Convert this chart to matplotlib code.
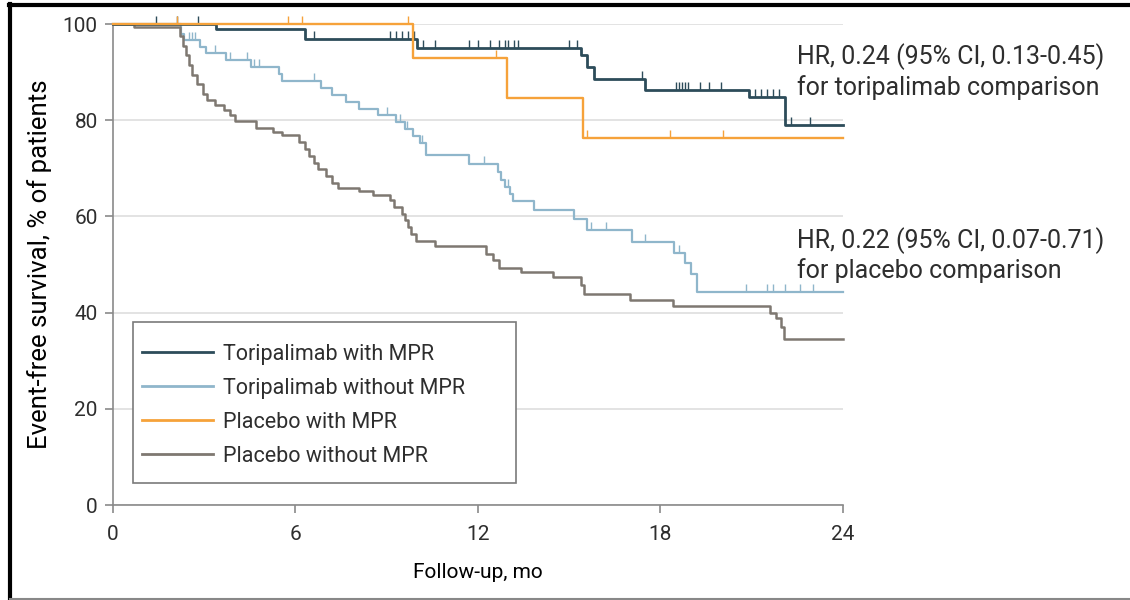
import matplotlib
matplotlib.use("Agg")

import matplotlib.pyplot as plt
import numpy as np
from matplotlib.lines import Line2D
from matplotlib.patches import Rectangle

# step curves: time (mo) where the level starts, survival (%) from that time on
tor_mpr_t = [0, 3.4, 6.3, 10.0, 15.4, 15.6, 15.8, 17.5, 20.9, 22.1, 24]
tor_mpr_s = [100, 99.0, 96.9, 95.0, 93.5, 91.0, 88.5, 86.2, 84.8, 79.0, 79.0]
tor_mpr_cens = [1.4, 2.1, 2.8, 6.6, 9.1, 9.3, 9.5, 9.7, 9.9, 10.2, 10.6, 11.7, 12.0,
                12.4, 12.7, 12.9, 13.0, 13.2, 13.3, 15.0, 15.25, 17.4, 18.5, 18.6,
                18.7, 18.8, 18.9, 19.3, 19.6, 20.0, 21.1, 21.3, 21.5, 21.7, 21.9,
                22.3, 22.9]

tor_nompr_t = [0, 2.25, 2.35, 2.85, 3.05, 3.7, 4.55, 5.45, 5.55, 6.85, 7.2, 7.65,
               8.1, 8.7, 9.3, 9.6, 9.85, 10.1, 10.3, 11.7, 12.65, 12.75, 12.9,
               13.05, 13.15, 13.85, 15.15, 15.6, 17.05, 18.45, 18.8, 19.0, 19.2, 24]
tor_nompr_s = [100, 98.0, 96.7, 95.3, 93.9, 92.5, 91.1, 89.7, 88.2, 86.6, 85.2, 83.8,
               82.4, 81.0, 79.6, 78.2, 76.8, 75.2, 72.8, 71.0, 69.2, 67.6, 66.1,
               64.6, 63.2, 61.3, 59.5, 57.2, 54.7, 52.4, 50.3, 48.0, 44.3, 44.3]
tor_nompr_cens = [2.5, 2.6, 2.7, 3.35, 3.85, 4.4, 4.65, 4.8, 6.6, 9.0, 9.45, 9.65,
                  10.15, 12.2, 13.0, 15.7, 16.2, 17.5, 18.6, 20.8, 21.5, 21.7, 22.1,
                  22.6, 23.0]

pbo_mpr_t = [0, 9.86, 12.95, 15.45, 24]
pbo_mpr_s = [100, 92.9, 84.6, 76.3, 76.3]
pbo_mpr_cens = [2.1, 5.75, 6.2, 9.7, 12.6, 15.6, 18.3, 20.05]

pbo_nompr_t = [0, 0.7, 2.2, 2.3, 2.4, 2.5, 2.6, 2.75, 2.95, 3.1, 3.35, 3.65, 3.85,
               4.0, 4.7, 5.25, 5.55, 6.1, 6.3, 6.45, 6.6, 6.75, 7.0, 7.2, 7.4, 8.1,
               8.55, 9.1, 9.25, 9.5, 9.6, 9.7, 9.8, 9.95, 10.6, 12.25, 12.5, 12.7,
               13.4, 14.45, 15.4, 15.5, 17.0, 18.4, 21.6, 21.8, 21.95, 22.05, 24]
pbo_nompr_s = [100, 99.3, 97.5, 95.5, 93.5, 91.5, 89.5, 87.5, 85.5, 84.2, 83.2, 82.1,
               81.0, 79.8, 78.4, 77.6, 76.9, 75.5, 74.0, 72.6, 71.2, 69.8, 68.4, 67.0,
               66.0, 65.3, 64.4, 63.4, 62.0, 60.6, 59.2, 57.8, 56.4, 55.0, 53.8, 52.2,
               50.9, 49.3, 48.5, 47.5, 45.8, 43.8, 42.7, 41.3, 39.9, 39.0, 37.0, 34.5,
               34.5]
pbo_nompr_cens = []

labels = ["Toripalimab with MPR", "Toripalimab without MPR",
          "Placebo with MPR", "Placebo without MPR"]
hr_texts = ["HR, 0.24 (95% CI, 0.13-0.45)\nfor toripalimab comparison",
            "HR, 0.22 (95% CI, 0.07-0.71)\nfor placebo comparison"]

plt.rcParams["font.family"] = ["Roboto", "DejaVu Sans"]
plt.rcParams["text.color"] = "#2e2e2e"
FS = 15

fig = plt.figure(figsize=(11.3, 6), dpi=100)
ax = fig.add_axes([0.1, 0.158, 0.646, 0.802])

series = [
    (tor_nompr_t, tor_nompr_s, tor_nompr_cens, "#8fb6cb", 1.6, labels[1]),
    (pbo_nompr_t, pbo_nompr_s, pbo_nompr_cens, "#7e7871", 1.8, labels[3]),
    (tor_mpr_t, tor_mpr_s, tor_mpr_cens, "#2d4c5a", 2.0, labels[0]),
    (pbo_mpr_t, pbo_mpr_s, pbo_mpr_cens, "#f6a23a", 1.7, labels[2]),
]

tick_marker = [(0, 0), (0, 1)]
handles = {}
for t, s, cens, color, lw, lab in series:
    line, = ax.step(t, s, where="post", color=color, lw=lw, label=lab,
                    clip_on=False, zorder=3)
    handles[lab] = line
    if cens:
        idx = np.searchsorted(t, cens, side="right") - 1
        ax.plot(cens, np.array(s)[idx], ls="none", marker=tick_marker,
                markersize=11, markeredgewidth=1.0, color=color,
                clip_on=False, zorder=3)

ax.set_xlim(0, 24)
ax.set_ylim(0, 100)
ax.set_xticks([0, 6, 12, 18, 24])
ax.set_yticks([0, 20, 40, 60, 80, 100])
ax.yaxis.grid(True, color="#dedede", lw=1.2)
ax.set_axisbelow(True)
for side in ["top", "right"]:
    ax.spines[side].set_visible(False)
for side in ["left", "bottom"]:
    ax.spines[side].set_color("#8a8a8a")
    ax.spines[side].set_linewidth(1.2)
ax.tick_params(colors="#8a8a8a", labelcolor="#2e2e2e", labelsize=FS,
               length=6, width=1.2, pad=5)
ax.tick_params(axis="x", pad=8)

ax.set_xlabel("Follow-up, mo", fontsize=FS, labelpad=14)
ax.set_ylabel("Event-free survival, % of patients", fontsize=18.5, labelpad=8)

# legend box, entries placed inside it without their own frame
ax.add_patch(Rectangle((0.027, 0.046), 0.525, 0.335, transform=ax.transAxes,
                       facecolor="white", edgecolor="#7a7a7a", lw=1.2,
                       zorder=4))
leg = ax.legend([handles[l] for l in labels], labels, loc="upper left",
                bbox_to_anchor=(0.04, 0.335), borderaxespad=0, borderpad=0,
                fontsize=15.5, frameon=False, handlelength=3.3,
                labelspacing=0.6, handletextpad=0.45)
leg.set_zorder(5)
for h in leg.legend_handles:
    h.set_linewidth(2)

ax.text(22.49, 90.2, hr_texts[0], fontsize=18, va="center", ha="left",
        linespacing=1.25, zorder=6)
ax.text(22.49, 52.0, hr_texts[1], fontsize=18, va="center", ha="left",
        linespacing=1.2, zorder=6)

# outer frame
fig.add_artist(Line2D([0.008, 1.0], [0.992, 0.992], color="black", lw=3))
fig.add_artist(Line2D([0.009, 0.009], [0.0, 0.993], color="black", lw=3))
fig.add_artist(Line2D([0.009, 1.0], [0.002, 0.002], color="#888888", lw=1.5))

fig.savefig("out.png", dpi=100)
